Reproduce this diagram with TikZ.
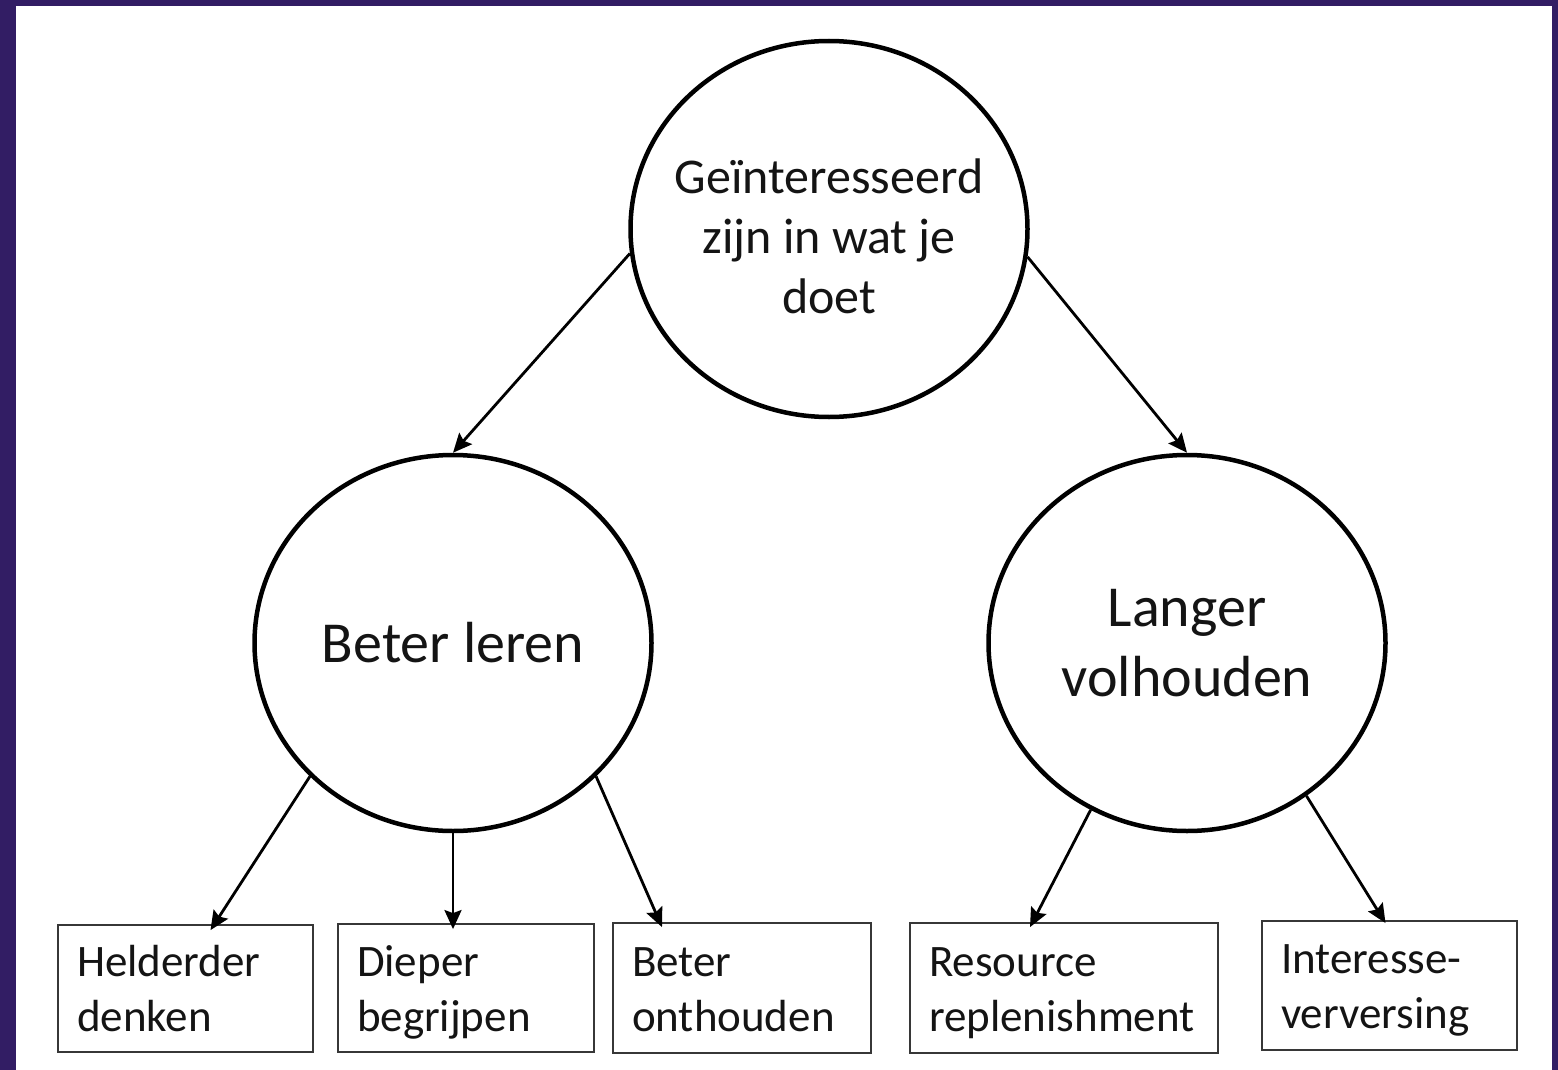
\documentclass[tikz,border=0pt]{standalone}
\usepackage{fontspec}
\setmainfont{Carlito}
\usetikzlibrary{shapes.geometric,arrows.meta}
\definecolor{frame}{RGB}{50,29,100}
\definecolor{ink}{RGB}{20,20,20}
\newcommand{\twolines}[2]{\rule{0pt}{31pt}\smash{#1}\\\smash{#2}}
\tikzset{
  bubble/.style={ellipse, draw=black, line width=4.5pt, minimum width=397pt, minimum height=376pt, inner sep=-30pt, align=center, text=ink},
  boxnode/.style={rectangle, draw=ink!85, line width=1.8pt, inner xsep=19pt, inner ysep=0pt, align=left, text=ink, font=\fontsize{45}{55}\selectfont},
  conn/.style={line width=2.8pt, -{Stealth[length=19pt,width=17pt,inset=3pt]}}
}
\begin{document}
\begin{tikzpicture}[x=1pt,y=-1pt]
\fill[frame] (0,0) rectangle (1558,1070);
\fill[white] (16,6) rectangle (1552,1070);
\useasboundingbox (0,0) rectangle (1558,1070);

\node[bubble, font=\fontsize{50}{60}\selectfont] (top) at (829,229) {\rule{0pt}{50pt}Geïnteresseerd\\zijn in wat je\\doet};
\node[bubble, font=\fontsize{58}{70}\selectfont] (left) at (453,643) {Beter leren};
\node[bubble, font=\fontsize{58}{70}\selectfont] (right) at (1187,643) {Langer\\volhouden};

\node[boxnode, minimum width=255pt, minimum height=127pt, text width=217pt] (b1) at (185.5,988.5) {\twolines{Helderder}{denken}};
\node[boxnode, minimum width=256pt, minimum height=128pt, text width=218pt] (b2) at (466,988) {\twolines{Dieper}{begrijpen}};
\node[boxnode, minimum width=258pt, minimum height=130pt, text width=220pt] (b3) at (742,988) {\twolines{Beter}{onthouden}};
\node[boxnode, minimum width=308pt, minimum height=130pt, text width=270pt] (b4) at (1064,988) {\twolines{Resource}{replenishment}};
\node[boxnode, minimum width=255pt, minimum height=129pt, text width=217pt] (b5) at (1389.5,985.5) {\twolines{Interesse-}{verversing}};

\draw[conn] (top.187) -- (left.north);
\draw[conn] (top.-8) -- (right.north);

\draw[conn] (left.223) -- ([xshift=25pt,yshift=-6pt]b1.north);
\draw[conn] (left.south) -- ([yshift=-6pt]left.south |- b2.north);
\draw[conn] (left.-43) -- ([xshift=-80pt,yshift=-5pt]b3.north);

\draw[conn] (right.240) -- ([xshift=-34pt,yshift=-5pt]b4.north);
\draw[conn] (right.-52) -- ([xshift=-4pt,yshift=-3pt]b5.north);
\end{tikzpicture}
\end{document}
